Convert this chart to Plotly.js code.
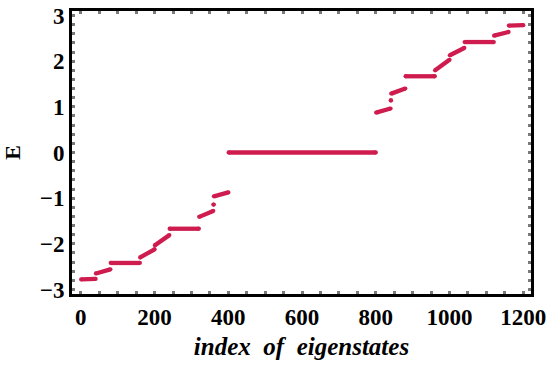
<!DOCTYPE html>
<html>
<head>
<meta charset="utf-8">
<script src="https://cdn.plot.ly/plotly-3.0.1.min.js"></script>
<style>html,body{margin:0;padding:0;background:#fff;}#chart{width:550px;height:365px;}</style>
</head>
<body>
<div id="chart"></div>
<script>
const runStart = [1, 41, 81, 161, 201, 241, 321, 360, 361, 401, 801, 841, 842, 881, 961, 1001, 1041, 1121, 1161];
const runEnd   = [40, 80, 160, 200, 240, 320, 359, 360, 400, 800, 840, 841, 880, 960, 1000, 1040, 1120, 1160, 1200];
const eStart   = [-2.78, -2.65, -2.42, -2.30, -2.03, -1.67, -1.41, -1.14, -0.96, 0.0, 0.875, 1.14, 1.29, 1.67, 1.80, 2.13, 2.42, 2.56, 2.78];
const eEnd     = [-2.77, -2.56, -2.42, -2.12, -1.81, -1.67, -1.28, -1.14, -0.875, 0.0, 0.963, 1.14, 1.40, 1.67, 2.03, 2.29, 2.42, 2.64, 2.79];
const xTickVals = [0, 200, 400, 600, 800, 1000, 1200];
const yTickVals = [-3, -2, -1, 0, 1, 2, 3];

const xs = [], ys = [];
for (let k = 0; k < runStart.length; k++) {
  xs.push(runStart[k], runEnd[k], null);
  ys.push(eStart[k], eEnd[k], null);
}

const col = '#cf1c4f';
const trace = {
  x: xs, y: ys, type: 'scatter', mode: 'lines+markers',
  line: {color: col, width: 4.3},
  marker: {color: col, size: 4.3},
  connectgaps: false, hoverinfo: 'skip', showlegend: false
};

const serif = '"Liberation Serif", "Times New Roman", serif';
const tickFont = {family: serif, size: 23, color: '#000', weight: 'bold'};
const axisCommon = {
  showgrid: false, zeroline: false,
  showline: true, linecolor: '#000', linewidth: 3, mirror: 'allticks',
  ticks: 'inside', ticklen: 3, tickwidth: 3, tickcolor: '#7a7a7a',
  tickfont: tickFont
};

const layout = {
  width: 550, height: 365,
  margin: {l: 72, r: 19, t: 11, b: 71},
  paper_bgcolor: '#fff', plot_bgcolor: '#fff',
  xaxis: Object.assign({}, axisCommon, {
    range: [-24, 1221], tickmode: 'array', tickvals: xTickVals,
    minor: {dtick: 50, tick0: 0, ticks: 'inside', ticklen: 3, tickwidth: 3, tickcolor: '#7a7a7a'},
    title: {text: '<i>index  of  eigenstates</i>', standoff: 9,
      font: {family: serif, size: 25, color: '#000', weight: 'bold'}}
  }),
  yaxis: Object.assign({}, axisCommon, {
    range: [-3.1, 3.1], tickmode: 'array', tickvals: yTickVals,
    minor: {dtick: 0.2, tick0: 0, ticks: 'inside', ticklen: 3, tickwidth: 3, tickcolor: '#7a7a7a'},
    title: {text: 'E', standoff: 16,
      font: {family: serif, size: 22, color: '#000', weight: 'bold'}}
  })
};

Plotly.newPlot('chart', [trace], layout, {displayModeBar: false, staticPlot: true});
</script>
</body>
</html>
